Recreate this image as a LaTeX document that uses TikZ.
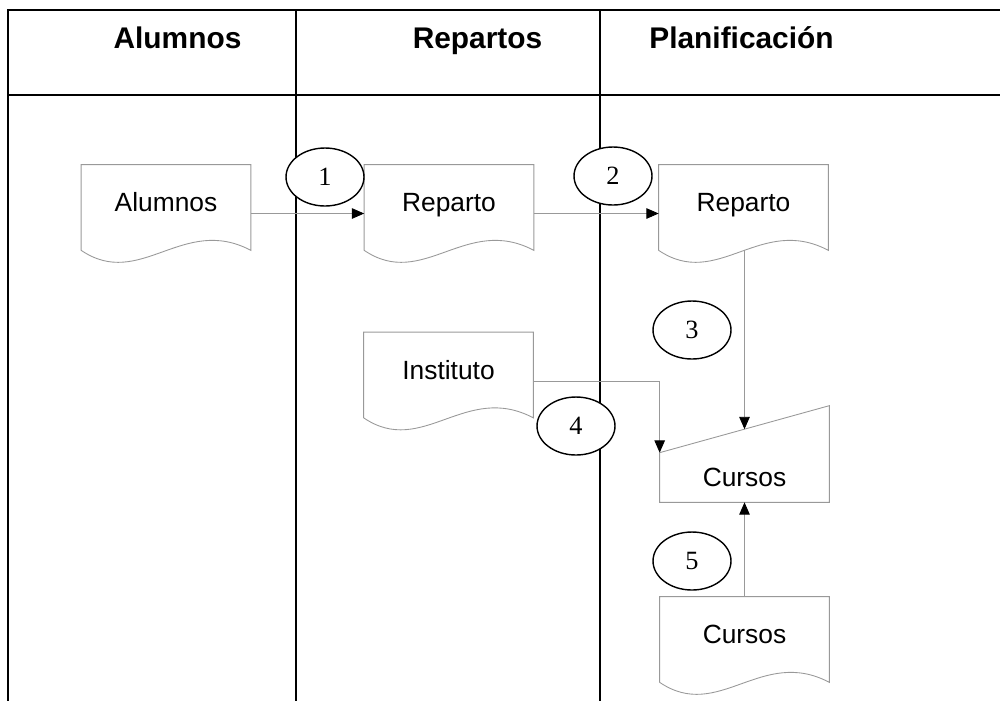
\documentclass[tikz,border=0pt]{standalone}
\usepackage{fontspec}
\setmainfont{Liberation Sans}
\newfontfamily\numfont{Liberation Serif}
\usetikzlibrary{shapes.geometric,arrows.meta,calc}
\newcommand\docborde[1]{\draw[borde] (#1.south west) -- (#1.north west) -- (#1.north east) -- (#1.south east) .. controls +(-68,-36) and +(59,40) .. (#1.south west);}

\begin{document}
\begin{tikzpicture}[x=0.02cm,y=-0.02cm,
    carril/.style={line width=1pt},
    titulo/.style={anchor=base,inner sep=0pt,font=\bfseries\fontsize{17}{20}\selectfont},
    doc/.style={minimum width=3.38cm,minimum height=1.7cm,inner sep=0pt,font=\fontsize{15}{18}\selectfont,text height=10pt,text depth=5pt},
    entrada/.style={minimum width=3.38cm,minimum height=0.98cm,inner sep=0pt,font=\fontsize{15}{18}\selectfont},
    borde/.style={gray!80,line width=0.5pt},
    paso/.style={ellipse,draw,fill=white,line width=0.8pt,minimum width=1.56cm,minimum height=1.16cm,inner sep=0pt,font=\numfont\fontsize{15}{17}\selectfont},
    flujo/.style={gray!80,line width=0.5pt,-{Triangle[length=7pt,width=6pt,black]}}]
  \useasboundingbox (0,0) rectangle (1000,701);
  \draw[carril] (1000,10) -- (8,10) -- (8,701);
  \draw[carril] (8,95) -- (1000,95);
  \draw[carril] (296,10) -- (296,701);
  \draw[carril] (600,10) -- (600,701);
  \node[titulo] (tAlumnos) at (177.5,48) {Alumnos};
  \node[titulo] (tRepartos) at (477.5,48) {Repartos};
  \node[titulo] (tPlanif) at (741.5,48) {Planificación};

  \node[doc] (alumnos) at (166,207.5) {Alumnos};
  \docborde{alumnos}
  \node[doc] (rep1) at (449,207.5) {Reparto};
  \docborde{rep1}
  \node[doc] (rep2) at (743.5,207.5) {Reparto};
  \docborde{rep2}
  \node[doc] (instituto) at (448.5,375) {Instituto};
  \docborde{instituto}
  \node[doc] (cursosdoc) at (744.5,639.5) {Cursos};
  \docborde{cursosdoc}
  \node[entrada] (cursos) at (744.5,477.5) {Cursos};
  \coordinate (cursosTR) at ([shift={(0,-47)}]cursos.north east);
  \draw[borde] (cursos.north west) -- (cursosTR) -- (cursos.south east) -- (cursos.south west) -- cycle;
  \coordinate (cursosin) at ($(cursos.north west)!0.5!(cursosTR)$);

  \draw[flujo] ([shift={(0,6)}]alumnos.east) -- ([shift={(0,6)}]rep1.west);
  \draw[flujo] ([shift={(0,6)}]rep1.east) -- ([shift={(0,6)}]rep2.west);
  \draw[flujo] (rep2.south -| cursosin) -- (cursosin);
  \draw[flujo] ([shift={(0,6)}]instituto.east) -| (cursos.north west);
  \draw[flujo] (cursosdoc.north) -- (cursos.south);

  \node[paso] (p1) at (325,177) {1};
  \node[paso] (p2) at (613,176) {2};
  \node[paso] (p3) at (692,330) {3};
  \node[paso] (p4) at (576,426) {4};
  \node[paso] (p5) at (692,561) {5};
\end{tikzpicture}
\end{document}
